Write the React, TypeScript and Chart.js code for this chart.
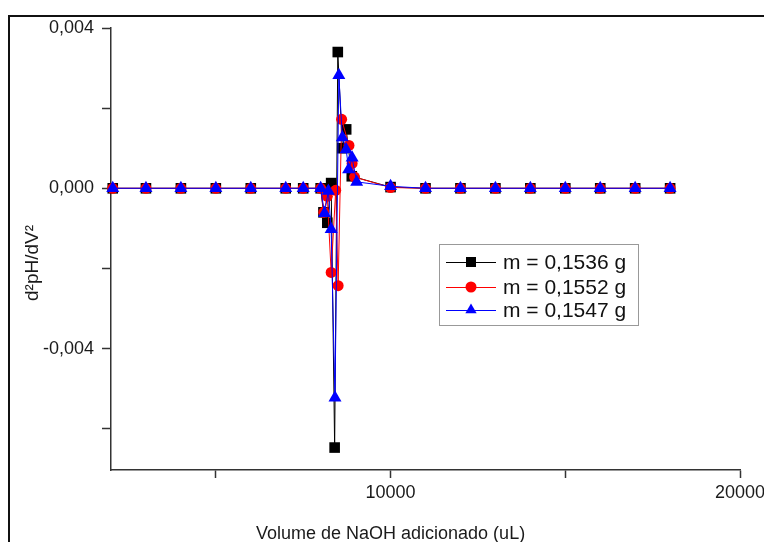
import React, { useEffect, useRef } from 'react';
import { Chart, registerables } from 'chart.js';

Chart.register(...registerables);

const FONT = '"Liberation Sans", Arial, Helvetica, sans-serif';

const seriesLabels = ['m = 0,1536 g', 'm = 0,1552 g', 'm = 0,1547 g'];
const seriesColors = ['#000000', '#ff0000', '#0000ff'];

const blackX = [2050, 3000, 4000, 5000, 6000, 7000, 7500, 8000, 8080, 8190, 8300, 8400, 8490, 8620, 8730, 8890, 10000, 11000, 12000, 13000, 14000, 15000, 16000, 17000, 18000];
const blackY = [0, 0, 0, 0, 0, 0, 0, 0, -0.0006, -0.00086, 0.00013, -0.00647, 0.0034, 0.001, 0.00147, 0.0003, 0.00003, 0, 0, 0, 0, 0, 0, 0, 0];

const redX = [2050, 3000, 4000, 5000, 6000, 7000, 7500, 8000, 8090, 8190, 8300, 8430, 8500, 8600, 8810, 8900, 8970, 10000, 11000, 12000, 13000, 14000, 15000, 16000, 17000, 18000];
const redY = [0, 0, 0, 0, 0, 0, 0, 0, -0.0006, -0.0002, -0.0021, -0.00005, -0.00243, 0.00172, 0.00107, 0.00062, 0.00028, 0.00002, 0, 0, 0, 0, 0, 0, 0, 0];

const blueX = [2050, 3000, 4000, 5000, 6000, 7000, 7500, 8000, 8110, 8220, 8300, 8410, 8520, 8620, 8730, 8800, 8900, 9030, 10000, 11000, 12000, 13000, 14000, 15000, 16000, 17000, 18000];
const blueY = [0, 0, 0, 0, 0, 0, 0, 0, -0.00062, -0.00007, -0.00102, -0.00523, 0.00282, 0.00127, 0.00097, 0.00047, 0.00076, 0.00016, 0.00005, 0, 0, 0, 0, 0, 0, 0, 0];

const xTickValues = [5000, 10000, 15000, 20000];
const xLabelledTicks = [10000, 20000];
const yTickValues = [-0.006, -0.004, -0.002, 0, 0.002, 0.004];
const yLabelledTicks = [-0.004, 0, 0.004];

const xTitle = 'Volume de NaOH adicionado (uL)';
const yTitle = 'd²pH/dV²';

const toPoints = (xs: number[], ys: number[]) => xs.map((x, i) => ({ x, y: ys[i] }));

const framePlugin = {
  id: 'frame',
  beforeDraw(chart: any) {
    const ctx = chart.ctx;
    ctx.save();
    ctx.strokeStyle = '#111';
    ctx.lineWidth = 2;
    ctx.strokeRect(1, 8, chart.width + 20, chart.height + 20);
    ctx.restore();
  },
};

const titlesPlugin = {
  id: 'titles',
  afterDraw(chart: any) {
    const ctx = chart.ctx;
    const xs = chart.scales.x;
    ctx.save();
    ctx.fillStyle = '#1a1a1a';
    ctx.font = `18px ${FONT}`;
    ctx.textAlign = 'center';
    ctx.textBaseline = 'middle';
    ctx.fillText(xTitle, xs.getPixelForValue(10000), 526);
    ctx.translate(25, 255);
    ctx.rotate(-Math.PI / 2);
    ctx.font = `19px ${FONT}`;
    ctx.fillText(yTitle, 0, 0);
    ctx.restore();
  },
};

function drawMarker(ctx: CanvasRenderingContext2D, kind: string, x: number, y: number, color: string) {
  ctx.fillStyle = color;
  ctx.beginPath();
  if (kind === 'rect') {
    ctx.rect(x - 5, y - 5, 10, 10);
  } else if (kind === 'circle') {
    ctx.arc(x, y, 5.5, 0, Math.PI * 2);
  } else {
    const r = 6.5;
    ctx.moveTo(x, y - r);
    ctx.lineTo(x + r * 0.866, y + r * 0.5);
    ctx.lineTo(x - r * 0.866, y + r * 0.5);
    ctx.closePath();
  }
  ctx.fill();
}

const legendPlugin = {
  id: 'customLegend',
  afterDraw(chart: any) {
    const ctx = chart.ctx;
    const area = chart.chartArea;
    const left = area.left + 328;
    const top = area.top + 216;
    const w = 199;
    const h = 81;
    ctx.save();
    ctx.fillStyle = '#fff';
    ctx.fillRect(left, top, w, h);
    ctx.strokeStyle = '#999';
    ctx.lineWidth = 1;
    ctx.strokeRect(left + 0.5, top + 0.5, w, h);
    const kinds = ['rect', 'circle', 'triangle'];
    const rows = [18, 43, 66];
    ctx.font = `21px ${FONT}`;
    ctx.textBaseline = 'middle';
    ctx.textAlign = 'left';
    seriesLabels.forEach((label, i) => {
      const y = top + rows[i];
      ctx.strokeStyle = seriesColors[i];
      ctx.lineWidth = 1;
      ctx.beginPath();
      ctx.moveTo(left + 7, y + 0.5);
      ctx.lineTo(left + 57, y + 0.5);
      ctx.stroke();
      drawMarker(ctx, kinds[i], left + 32, y, seriesColors[i]);
      ctx.fillStyle = '#111';
      ctx.fillText(label, left + 64, y + 1);
    });
    ctx.restore();
  },
};

export default function App() {
  const ref = useRef<HTMLCanvasElement>(null);

  useEffect(() => {
    if (!ref.current) return;
    const common = { showLine: true, borderWidth: 1, pointBorderWidth: 0, clip: false as any };
    const chart = new Chart(ref.current, {
      type: 'scatter',
      data: {
        datasets: [
          {
            ...common,
            label: seriesLabels[0],
            data: toPoints(blackX, blackY),
            borderColor: seriesColors[0],
            backgroundColor: seriesColors[0],
            pointStyle: 'rect',
            pointRadius: 7.5,
            order: 3,
          },
          {
            ...common,
            label: seriesLabels[1],
            data: toPoints(redX, redY),
            borderColor: seriesColors[1],
            backgroundColor: seriesColors[1],
            pointStyle: 'circle',
            pointRadius: 5.5,
            order: 2,
          },
          {
            ...common,
            label: seriesLabels[2],
            data: toPoints(blueX, blueY),
            borderColor: seriesColors[2],
            backgroundColor: seriesColors[2],
            pointStyle: 'triangle',
            pointRadius: 7.5,
            order: 1,
          },
        ] as any,
      },
      options: {
        responsive: false,
        animation: false,
        devicePixelRatio: 1,
        layout: { padding: { left: 0, top: 20, right: 24, bottom: 0 } },
        plugins: { legend: { display: false }, tooltip: { enabled: false } },
        scales: {
          x: {
            type: 'linear',
            position: 'bottom',
            min: 2000,
            max: 20000,
            afterBuildTicks: (s: any) => {
              s.ticks = xTickValues.map((v) => ({ value: v }));
            },
            afterFit: (s: any) => {
              s.height = 72;
              s.paddingLeft = 0;
              s.paddingRight = 0;
            },
            grid: { drawOnChartArea: false, drawTicks: true, tickLength: 8, tickColor: '#333', tickWidth: 1.5 },
            border: { display: true, color: '#333', width: 1.5 },
            ticks: {
              padding: 4,
              autoSkip: false,
              maxRotation: 0,
              color: '#1a1a1a',
              font: { family: FONT, size: 18 },
              callback: (v: any) => (xLabelledTicks.includes(Number(v)) ? String(v) : ''),
            },
          },
          y: {
            type: 'linear',
            min: -0.00703,
            max: 0.004,
            afterBuildTicks: (s: any) => {
              s.ticks = yTickValues.map((v) => ({ value: v }));
            },
            afterFit: (s: any) => {
              s.width = 103;
              s.paddingTop = 0;
              s.paddingBottom = 0;
            },
            grid: { drawOnChartArea: false, drawTicks: true, tickLength: 9, tickColor: '#333', tickWidth: 1.5 },
            border: { display: true, color: '#333', width: 1.5 },
            ticks: {
              padding: 8,
              autoSkip: false,
              color: '#1a1a1a',
              font: { family: FONT, size: 18 },
              callback: (v: any) => {
                const n = Number(v);
                const labelled = yLabelledTicks.some((t) => Math.abs(t - n) < 1e-9);
                if (!labelled) return '';
                const s = Math.abs(n).toFixed(3).replace('.', ',');
                return n < -1e-9 ? '-' + s : s;
              },
            },
          },
        },
      } as any,
      plugins: [framePlugin, titlesPlugin, legendPlugin],
    });
    return () => chart.destroy();
  }, []);

  return (
    <div
      style={{
        position: 'fixed',
        left: 8,
        top: 8,
        width: 756,
        height: 534,
        overflow: 'hidden',
        background: '#fff',
      }}
    >
      <canvas ref={ref} width={756} height={534} style={{ display: 'block', width: 756, height: 534 }} />
    </div>
  );
}
